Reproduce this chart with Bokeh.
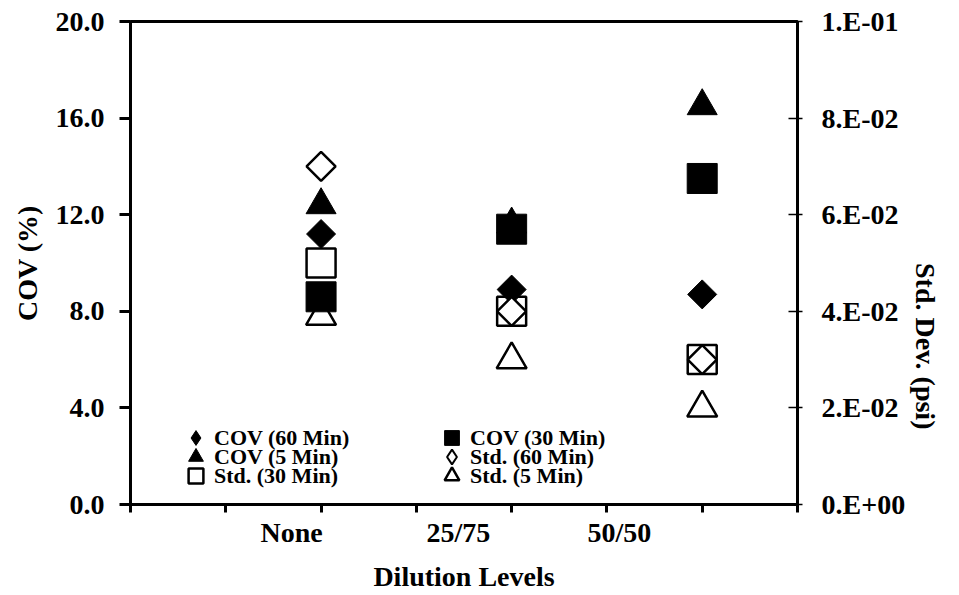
import math
from bokeh.plotting import figure
from bokeh.models import Range1d, LinearAxis, FixedTicker, Legend, LegendItem, PrintfTickFormatter
from bokeh.embed import file_html
from bokeh.resources import INLINE

# ---- data ----
categories = ["None", "25/75", "50/50"]
cat_x = [2, 4, 6]
label_x = [1.69, 3.44, 5.13]
cov_60 = [11.2, 8.9, 8.7]
cov_30 = [8.6, 11.4, 13.5]
cov_5 = [12.4, 11.6, 16.5]
std_60 = [0.070, 0.040, 0.030]
std_30 = [0.050, 0.040, 0.030]
std_5 = [0.039, 0.030, 0.020]
cov_ticks = [0, 4, 8, 12, 16, 20]
std_ticks = [0, 0.02, 0.04, 0.06, 0.08, 0.1]
std_tick_labels = ["0.E+00", "2.E-02", "4.E-02", "6.E-02", "8.E-02", "1.E-01"]
x_slots = list(range(8))

# ---- layout / style ----
FONT = "Liberation Serif"
legend_cols_px = [47, 303]
legend_rows_px = [48, 29, 10]

p = figure(width=959, height=595, x_range=Range1d(0, 7), y_range=Range1d(0, 20),
           output_backend="svg", toolbar_location=None,
           min_border_left=130, min_border_right=161, min_border_top=21, min_border_bottom=91)
p.extra_y_ranges = {"std": Range1d(0, 0.1)}
p.xgrid.visible = False
p.ygrid.visible = False
p.outline_line_color = "black"
p.outline_line_width = 3
p.outline_line_alpha = 1
p.background_fill_color = "white"
p.border_fill_color = "white"

def style_axis(ax):
    ax.axis_line_color = "black"
    ax.axis_line_width = 3
    ax.major_label_text_font = FONT
    ax.major_label_text_font_style = "bold"
    ax.major_label_text_font_size = "28px"
    ax.major_label_text_color = "black"
    ax.axis_label_text_font = FONT
    ax.axis_label_text_font_style = "bold"
    ax.axis_label_text_font_size = "28px"
    ax.axis_label_text_color = "black"

# x axis
xa = p.xaxis[0]
style_axis(xa)
xa.ticker = FixedTicker(ticks=label_x, minor_ticks=x_slots)
xa.major_label_overrides = {lx: c for lx, c in zip(label_x, categories)}
xa.major_tick_line_color = None
xa.major_tick_out = 8
xa.major_tick_in = 0
xa.minor_tick_line_color = "black"
xa.minor_tick_line_width = 3
xa.minor_tick_out = 8
xa.minor_tick_in = 0
xa.major_label_standoff = 4
xa.axis_label = "Dilution Levels"
xa.axis_label_standoff = 10

# left axis
ya = p.yaxis[0]
style_axis(ya)
ya.ticker = FixedTicker(ticks=cov_ticks, minor_ticks=[])
ya.formatter = PrintfTickFormatter(format="%.1f")
ya.major_tick_line_color = "black"
ya.major_tick_line_width = 3
ya.major_tick_out = 11
ya.major_tick_in = 0
ya.minor_tick_line_color = None
ya.major_label_standoff = 15
ya.axis_label = "COV (%)"
ya.axis_label_standoff = 10

# right axis
ra = LinearAxis(y_range_name="std", ticker=FixedTicker(ticks=std_ticks, minor_ticks=[]))
style_axis(ra)
ra.major_label_overrides = {t: l for t, l in zip(std_ticks, std_tick_labels)}
ra.major_tick_line_color = "black"
ra.major_tick_line_width = 1.5
ra.major_tick_out = 5
ra.major_tick_in = 9
ra.minor_tick_line_color = None
ra.major_label_standoff = 19
ra.axis_label = "Std. Dev. (psi)"
ra.axis_label_standoff = 17
try:
    ra.axis_label_orientation = -math.pi / 2
except Exception:
    pass
p.add_layout(ra, "right")

# markers (draw order chosen to mimic overlaps)
r_cov5 = p.scatter(cat_x, cov_5, marker="triangle", size=30, fill_color="black", line_color="black")
r_cov60 = p.scatter(cat_x, cov_60, marker="square", angle=math.pi / 4, size=20.5,
                    fill_color="black", line_color="black")
r_cov30 = p.scatter(cat_x, cov_30, marker="square", size=30, fill_color="black", line_color="black")
r_std60 = p.scatter(cat_x, std_60, marker="square", angle=math.pi / 4, size=20.5, y_range_name="std",
                    fill_color="white", line_color="black", line_width=2.5)
r_std30 = p.scatter(cat_x, std_30, marker="square", size=29, y_range_name="std",
                    fill_color=None, line_color="black", line_width=2.5)
r_std5 = p.scatter(cat_x, std_5, marker="triangle", size=30, y_range_name="std",
                   fill_color=None, line_color="black", line_width=2.5)

# legend-only glyphs for the diamonds (legend markers are drawn unrotated); NaN = not plotted
lg_cov60 = p.scatter(x=[math.nan], y=[math.nan], marker="diamond", size=10,
                     fill_color="black", line_color="black")
lg_std60 = p.scatter(x=[math.nan], y=[math.nan], marker="diamond", size=10,
                     fill_color="white", line_color="black", line_width=2)

entries = [
    ("COV (60 Min)", lg_cov60, 0, 0),
    ("COV (30 Min)", r_cov30, 1, 0),
    ("COV (5 Min)", r_cov5, 0, 1),
    ("Std. (60 Min)", lg_std60, 1, 1),
    ("Std. (30 Min)", r_std30, 0, 2),
    ("Std. (5 Min)", r_std5, 1, 2),
]

for text, rend, col, row in entries:
    lg = Legend(items=[LegendItem(label=text, renderers=[rend])],
                location=(legend_cols_px[col], legend_rows_px[row]))
    lg.glyph_width = 37
    lg.glyph_height = 37
    lg.padding = 0
    lg.margin = 0
    lg.border_line_color = None
    lg.background_fill_alpha = 0
    lg.label_standoff = 0
    lg.label_text_font = FONT
    lg.label_text_font_style = "bold"
    lg.label_text_font_size = "22px"
    lg.label_text_color = "black"
    p.add_layout(lg)

open("out.html", "w").write(file_html(p, INLINE))
